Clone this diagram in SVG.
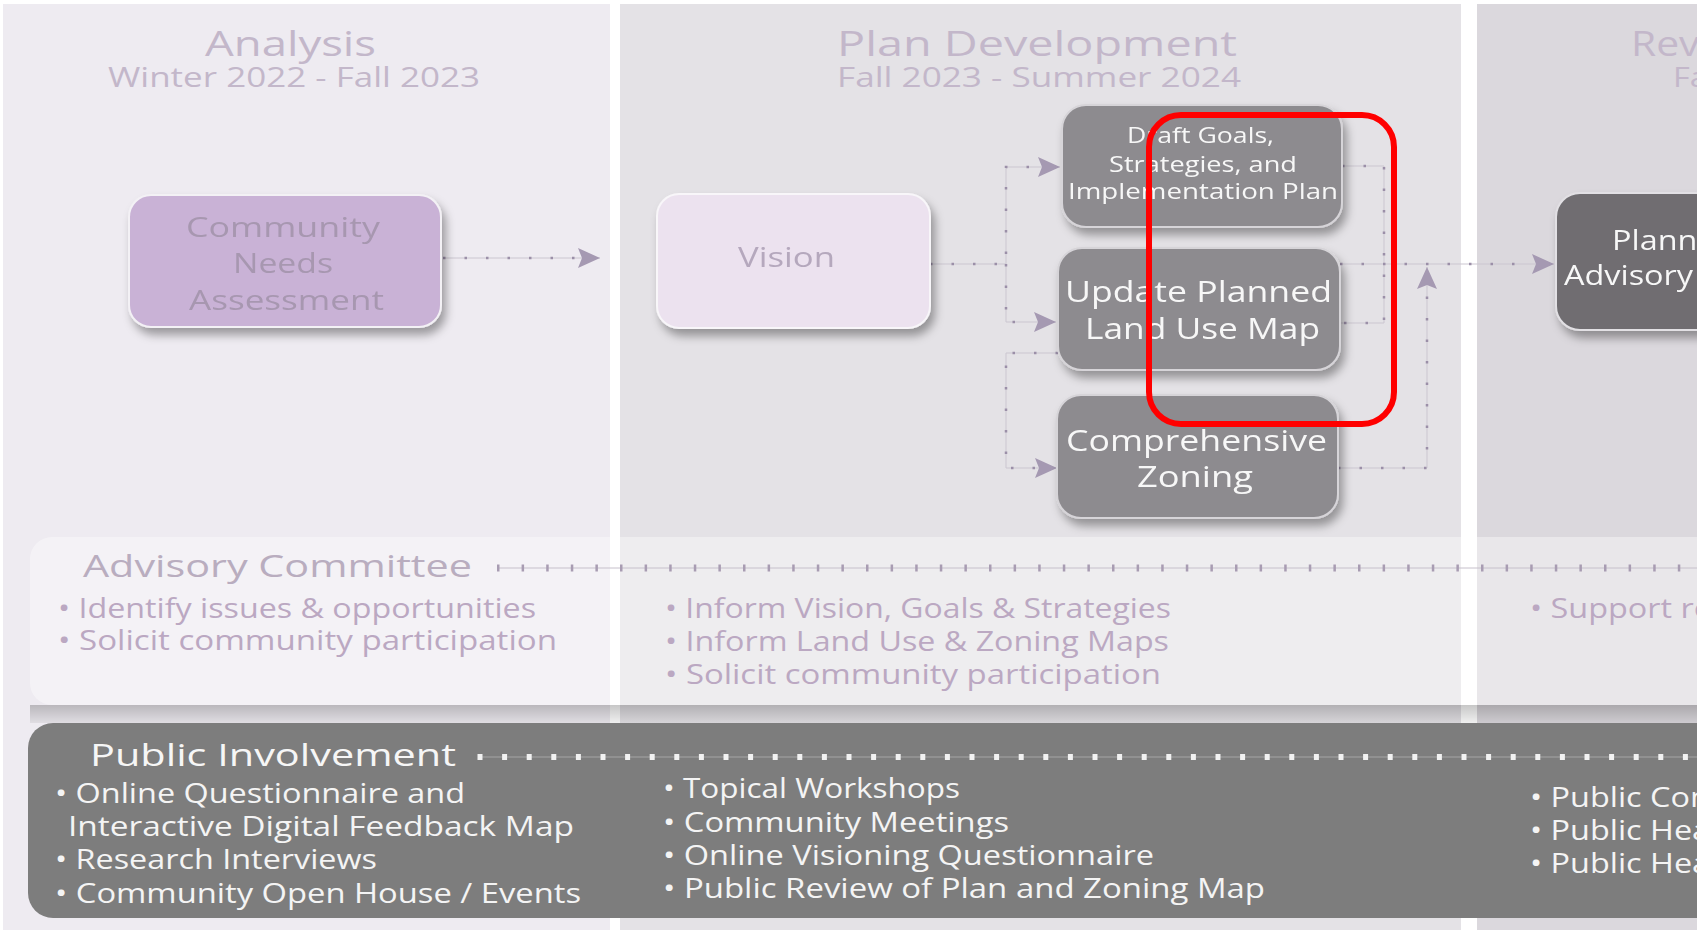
<svg xmlns="http://www.w3.org/2000/svg" width="1697" height="930" viewBox="0 0 1697 930">
<defs>
<style>
text{font-family:"Open Sans","Liberation Sans",Arial,sans-serif;}
.ttl{font-size:34px;fill:#c3b7ca;}
.sub{font-size:27px;fill:#c3b7ca;}
.ntL{font-size:28px;fill:#a797b0;}
.ntV{font-size:28px;fill:#b5a8bd;}
.ntD{fill:#f7f7f7;}
.advT{font-size:31px;fill:#b9adbf;}
.adv{font-size:27px;fill:#bba8c2;}
.piT{font-size:31px;fill:#f6f6f6;}
.pi{font-size:27px;fill:#f4f4f4;}
.cbase{fill:none;stroke:#cbc6d0;stroke-width:1;}
.cdot{fill:none;stroke:#9b8fa8;stroke-width:2.5;stroke-dasharray:2.5 19;}
.node{filter:url(#sh);}
</style>
<filter id="sh" x="-20%" y="-20%" width="150%" height="170%">
<feDropShadow dx="4" dy="7" stdDeviation="5" flood-color="#000" flood-opacity="0.35"/>
</filter>
<marker id="ah" viewBox="0 0 22 20" refX="22" refY="10" markerWidth="22" markerHeight="20" markerUnits="userSpaceOnUse" orient="auto">
<path d="M0,0 L22,10 L0,20 L4,10 z" fill="#a599b2"/>
</marker>
<linearGradient id="advsh" x1="0" y1="0" x2="0" y2="1">
<stop offset="0" stop-color="#000" stop-opacity="0.22"/>
<stop offset="1" stop-color="#000" stop-opacity="0.06"/>
</linearGradient>
</defs>

<rect x="0" y="0" width="1697" height="930" fill="#ffffff"/>

<g id="columns">
<rect x="3" y="4" width="607" height="926" fill="#eeebf1"/>
<rect x="620" y="4" width="841" height="926" fill="#e4e2e6"/>
<rect x="1477" y="4" width="220" height="926" fill="#dbd8dd"/>
</g>

<g id="titles">
<text class="ttl" x="205" y="56" textLength="171" lengthAdjust="spacingAndGlyphs">Analysis</text>
<text class="sub" x="108" y="87" textLength="372" lengthAdjust="spacingAndGlyphs">Winter 2022 - Fall 2023</text>
<text class="ttl" x="837" y="56" textLength="400" lengthAdjust="spacingAndGlyphs">Plan Development</text>
<text class="sub" x="837" y="87" textLength="404" lengthAdjust="spacingAndGlyphs">Fall 2023 - Summer 2024</text>
<text class="ttl" transform="translate(1631,56) scale(1.2,1)">Review</text>
<text class="sub" transform="translate(1673,87) scale(1.2,1)">Fall 2024</text>
</g>

<g id="connectors">
<path class="cbase" d="M443,258 H600" marker-end="url(#ah)"/>
<path class="cdot" d="M443,258 H578"/>
<path class="cbase" d="M930,264 H1006 V167 H1060" marker-end="url(#ah)"/>
<path class="cdot" d="M930,264 H1006 V167 H1038"/>
<path class="cbase" d="M1006,264 V322 H1056" marker-end="url(#ah)"/>
<path class="cdot" d="M1006,264 V322 H1034"/>
<path class="cbase" d="M1058,353 H1006 V468 H1057" marker-end="url(#ah)"/>
<path class="cdot" d="M1058,353 H1006 V468 H1035"/>
<path class="cbase" d="M1342,166 H1384 V323 H1340"/>
<path class="cdot" d="M1342,166 H1384 V323 H1340"/>
<path class="cbase" d="M1340,264 H1554" marker-end="url(#ah)"/>
<path class="cdot" d="M1340,264 H1532"/>
<path class="cbase" d="M1338,468 H1427 V267" marker-end="url(#ah)"/>
<path class="cdot" d="M1338,468 H1427 V289"/>
</g>

<g id="node-cna" class="node">
<rect x="129" y="195" width="312" height="132" rx="22" fill="#c9b2d6" stroke="#f3f1f5" stroke-width="2"/>
<text class="ntL" x="186" y="237" textLength="194" lengthAdjust="spacingAndGlyphs">Community</text>
<text class="ntL" x="233" y="273" textLength="100" lengthAdjust="spacingAndGlyphs">Needs</text>
<text class="ntL" x="189" y="310" textLength="195" lengthAdjust="spacingAndGlyphs">Assessment</text>
</g>

<g id="node-vision" class="node">
<rect x="657" y="194" width="273" height="134" rx="22" fill="#ece2ef" stroke="#f8f6f9" stroke-width="2"/>
<text class="ntV" x="738" y="267" textLength="97" lengthAdjust="spacingAndGlyphs">Vision</text>
</g>

<g id="node-draft" class="node">
<rect x="1062" y="105" width="280" height="122" rx="24" fill="#8d8b8f" stroke="#d6d4d8" stroke-width="2"/>
<text class="ntD" style="font-size:21px" x="1127" y="143" textLength="147" lengthAdjust="spacingAndGlyphs">Draft Goals,</text>
<text class="ntD" style="font-size:21px" x="1109" y="172" textLength="188" lengthAdjust="spacingAndGlyphs">Strategies, and</text>
<text class="ntD" style="font-size:21px" x="1068" y="199" textLength="270" lengthAdjust="spacingAndGlyphs">Implementation Plan</text>
</g>

<g id="node-update" class="node">
<rect x="1058" y="248" width="282" height="122" rx="24" fill="#8d8b8f" stroke="#d6d4d8" stroke-width="2"/>
<text class="ntD" style="font-size:29px" x="1065" y="302" textLength="267" lengthAdjust="spacingAndGlyphs">Update Planned</text>
<text class="ntD" style="font-size:29px" x="1085" y="339" textLength="235" lengthAdjust="spacingAndGlyphs">Land Use Map</text>
</g>

<g id="node-zoning" class="node">
<rect x="1057" y="395" width="281" height="123" rx="24" fill="#8d8b8f" stroke="#d6d4d8" stroke-width="2"/>
<text class="ntD" style="font-size:29px" x="1066" y="451" textLength="261" lengthAdjust="spacingAndGlyphs">Comprehensive</text>
<text class="ntD" style="font-size:29px" x="1137" y="487" textLength="116" lengthAdjust="spacingAndGlyphs">Zoning</text>
</g>

<g id="node-review" class="node">
<rect x="1556" y="193" width="220" height="137" rx="24" fill="#6f6d71" stroke="#e2e0e4" stroke-width="2"/>
<text class="ntD" style="font-size:27px" transform="translate(1612,250) scale(1.2,1)">Planning</text>
<text class="ntD" style="font-size:27px" transform="translate(1564,285) scale(1.2,1)">Advisory</text>
</g>

<g id="highlight">
<rect x="1149" y="115" width="245" height="309" rx="32" fill="none" stroke="#ff0000" stroke-width="6"/>
</g>

<g id="advisory">
<rect x="30" y="537" width="1700" height="168" rx="22" fill="#ffffff" fill-opacity="0.38"/>
<rect x="30" y="705" width="1700" height="18" fill="url(#advsh)"/>
<line x1="498" y1="568" x2="1697" y2="568" stroke="#c6c0cb" stroke-width="1"/>
<line x1="497" y1="568" x2="1697" y2="568" stroke="#a89cb2" stroke-width="7" stroke-dasharray="2.5 22.1"/>
<text class="advT" x="83" y="577" textLength="389" lengthAdjust="spacingAndGlyphs">Advisory Committee</text>
<text class="adv" x="58" y="618" textLength="478" lengthAdjust="spacingAndGlyphs">• Identify issues &amp; opportunities</text>
<text class="adv" x="58" y="650" textLength="499" lengthAdjust="spacingAndGlyphs">• Solicit community participation</text>
<text class="adv" x="665" y="618" textLength="506" lengthAdjust="spacingAndGlyphs">• Inform Vision, Goals &amp; Strategies</text>
<text class="adv" x="665" y="651" textLength="504" lengthAdjust="spacingAndGlyphs">• Inform Land Use &amp; Zoning Maps</text>
<text class="adv" x="665" y="684" textLength="496" lengthAdjust="spacingAndGlyphs">• Solicit community participation</text>
<text class="adv" transform="translate(1530,618) scale(1.2,1)">• Support review</text>
</g>

<g id="public">
<rect x="28" y="723" width="1700" height="195" rx="25" fill="#7d7d7d"/>
<line x1="480" y1="757" x2="1697" y2="757" stroke="#a6a6a6" stroke-width="1"/>
<line x1="477.5" y1="757" x2="1697" y2="757" stroke="#f2f2f2" stroke-width="6" stroke-dasharray="5 19.6"/>
<text class="piT" x="90" y="766" textLength="366" lengthAdjust="spacingAndGlyphs">Public Involvement</text>
<text class="pi" x="55" y="803" textLength="410" lengthAdjust="spacingAndGlyphs">• Online Questionnaire and</text>
<text class="pi" x="68" y="836" textLength="506" lengthAdjust="spacingAndGlyphs">Interactive Digital Feedback Map</text>
<text class="pi" x="55" y="869" textLength="322" lengthAdjust="spacingAndGlyphs">• Research Interviews</text>
<text class="pi" x="55" y="903" textLength="526" lengthAdjust="spacingAndGlyphs">• Community Open House / Events</text>
<text class="pi" x="663" y="798" textLength="297" lengthAdjust="spacingAndGlyphs">• Topical Workshops</text>
<text class="pi" x="663" y="832" textLength="346" lengthAdjust="spacingAndGlyphs">• Community Meetings</text>
<text class="pi" x="663" y="865" textLength="491" lengthAdjust="spacingAndGlyphs">• Online Visioning Questionnaire</text>
<text class="pi" x="663" y="898" textLength="602" lengthAdjust="spacingAndGlyphs">• Public Review of Plan and Zoning Map</text>
<text class="pi" transform="translate(1530,807) scale(1.2,1)">• Public Comment</text>
<text class="pi" transform="translate(1530,840) scale(1.2,1)">• Public Hearing</text>
<text class="pi" transform="translate(1530,873) scale(1.2,1)">• Public Hearing</text>
</g>
</svg>
